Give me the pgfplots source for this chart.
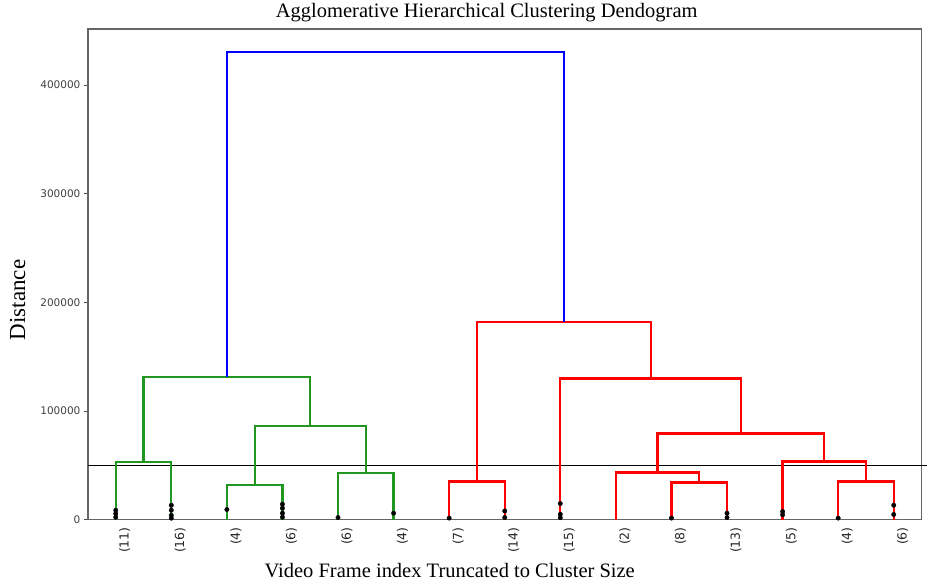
\documentclass[border=0pt]{standalone}
\usepackage{fontspec}
\setmainfont{Liberation Serif}
\newfontfamily\tickfont{DejaVu Sans}
\usepackage{pgfplots}
\pgfplotsset{compat=1.18}
\definecolor{dgreen}{RGB}{34,150,34}
\begin{document}
\begin{tikzpicture}
\begin{axis}[
  scale only axis,
  width=834pt, height=491pt,
  xmin=0, xmax=150, ymin=0, ymax=451500,
  clip=false,
  axis line style={draw=black!60, line width=1.3pt},
  scaled y ticks=false,
  ytick={0,100000,200000,300000,400000},
  yticklabels={0,100000,200000,300000,400000},
  yticklabel style={font=\tickfont\fontsize{10.5}{12}\selectfont, text=black!75},
  ytick style={draw=black!70, line width=0.8pt},
  tick align=outside,
  major tick length=4pt,
  ytick pos=left,
  xtick={5,15,25,35,45,55,65,75,85,95,105,115,125,135,145},
  xticklabels={(11),(16),(4),(6),(6),(4),(7),(14),(15),(2),(8),(13),(5),(4),(6)},
  xtick style={draw=none},
  xticklabel style={font=\tickfont\fontsize{12.5}{14}\selectfont, text=black!85, rotate=90, anchor=east, yshift=-9pt},
  title={Agglomerative Hierarchical Clustering Dendogram},
  title style={at={(axis description cs:0.4784,1)}, anchor=base, yshift=5pt, font=\fontsize{20.5}{24}\selectfont},
  xlabel={Video Frame index Truncated to Cluster Size},
  xlabel style={at={(axis description cs:0.434,0)}, anchor=base, yshift=-58pt, font=\fontsize{20.5}{24}\selectfont},
  ylabel={Distance},
  ylabel style={at={(axis description cs:-0.0755,0.448)}, anchor=base, font=\fontsize{23}{26}\selectfont},
]
% reference line
\addplot[black, line width=1pt] coordinates {(0,50000) (150.9,50000)};
% green cluster
\addplot[dgreen, line width=2.2pt] coordinates {(5,0) (5,53200) (15,53200) (15,0)};
\addplot[dgreen, line width=2.2pt] coordinates {(25,0) (25,32300) (35,32300) (35,0)};
\addplot[dgreen, line width=2.2pt] coordinates {(45,0) (45,43000) (55,43000) (55,0)};
\addplot[dgreen, line width=2.2pt] coordinates {(30,32300) (30,86300) (50,86300) (50,43000)};
\addplot[dgreen, line width=2.2pt] coordinates {(10,53200) (10,131400) (40,131400) (40,86300)};
% red cluster
\addplot[red, line width=2.2pt] coordinates {(65,0) (65,35100) (75,35100) (75,0)};
\addplot[red, line width=2.2pt] coordinates {(105,0) (105,34200) (115,34200) (115,0)};
\addplot[red, line width=2.2pt] coordinates {(95,0) (95,43400) (110,43400) (110,34200)};
\addplot[red, line width=2.2pt] coordinates {(135,0) (135,35100) (145,35100) (145,0)};
\addplot[red, line width=2.2pt] coordinates {(125,0) (125,53500) (140,53500) (140,35100)};
\addplot[red, line width=2.2pt] coordinates {(102.5,43400) (102.5,79300) (132.5,79300) (132.5,53500)};
\addplot[red, line width=2.2pt] coordinates {(85,0) (85,129900) (117.5,129900) (117.5,79300)};
\addplot[red, line width=2.2pt] coordinates {(70,35100) (70,182000) (101.25,182000) (101.25,129900)};
% blue link
\addplot[blue, line width=2pt] coordinates {(25,131400) (25,430700) (85.625,430700) (85.625,182000)};
% contracted leaf marks
\addplot[only marks, mark=*, mark size=2.2pt, black, mark options={fill=black}] coordinates {
  (5,2300) (5,5500) (5,8700)
  (15,1400) (15,4000) (15,8700) (15,13300)
  (25,9400)
  (35,2300) (35,6000) (35,10600) (35,14300)
  (45,2000)
  (55,6000)
  (65,1500)
  (75,2000) (75,8000)
  (85,1800) (85,5000) (85,14900)
  (105,1500)
  (115,2000) (115,6000)
  (125,4500) (125,7500)
  (135,1500)
  (145,4800) (145,13300)
};
\end{axis}
\path (current axis.south west) ++(-88pt,-61pt) coordinate (bl);
\path (current axis.north east) ++(5pt,29pt) coordinate (tr);
\path (bl) rectangle (tr);
\end{tikzpicture}
\end{document}
